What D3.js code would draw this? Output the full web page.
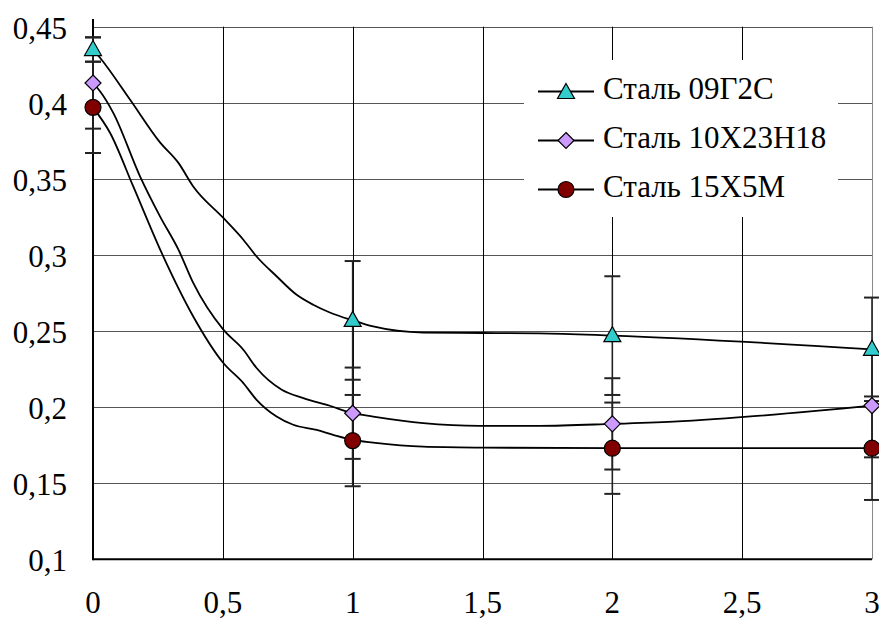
<!DOCTYPE html>
<html>
<head>
<meta charset="utf-8">
<script src="https://d3js.org/d3.v7.min.js"></script>
<style>
  body { margin: 0; background: #fff; }
  .lbl { font-family: "Liberation Serif"; font-size: 31px; }
</style>
</head>
<body>
<script>
// points with markers and error bars
var xPoints = [0, 1, 2, 3];
var yG2S = [0.435, 0.257, 0.247, 0.238];
var errG2S = [0.008, 0.039, 0.039, 0.034];
var yH18 = [0.413, 0.196, 0.189, 0.201];
var errH18 = [0.03, 0.03, 0.03, 0.034];
var yM = [0.397, 0.178, 0.173, 0.173];
var errM = [0.03, 0.03, 0.03, 0.034];

// traced curves
var curveXG2S = [0, 0.027, 0.143, 0.258, 0.329, 0.386, 0.502, 0.579, 0.63, 0.707, 0.783, 0.848, 0.912, 1, 1.079, 1.272, 1.5, 1.72, 2, 3];
var curveYG2S = [0.435, 0.4296, 0.402, 0.374, 0.3605, 0.345, 0.3243, 0.31, 0.299, 0.286, 0.274, 0.2673, 0.2622, 0.257, 0.253, 0.249, 0.2487, 0.2485, 0.247, 0.238];
var curveXH18 = [0, 0.027, 0.078, 0.181, 0.258, 0.329, 0.386, 0.502, 0.579, 0.63, 0.727, 0.81, 0.912, 1, 1.079, 1.272, 1.49, 1.72, 2, 2.235, 3];
var curveYH18 = [0.413, 0.4076, 0.3934, 0.3517, 0.3254, 0.3035, 0.2816, 0.2509, 0.2377, 0.2257, 0.2114, 0.2059, 0.2009, 0.196, 0.1938, 0.1895, 0.1877, 0.1877, 0.189, 0.1905, 0.201];
var curveXM = [0, 0.0655, 0.155, 0.2645, 0.386, 0.502, 0.579, 0.63, 0.707, 0.771, 0.861, 0.925, 1, 1.079, 1.272, 1.5, 2, 3];
var curveYM = [0.397, 0.3803, 0.345, 0.3013, 0.2596, 0.229, 0.2158, 0.2048, 0.1938, 0.1884, 0.185, 0.1818, 0.1785, 0.1767, 0.174, 0.1734, 0.173, 0.173];

var names = ["Сталь 09Г2С", "Сталь 10Х23Н18", "Сталь 15Х5М"];
var colors = ["#33CCCC", "#CC99FF", "#800000"];
var shapes = ["triangle", "diamond", "circle"];

var xTicks = [0, 0.5, 1, 1.5, 2, 2.5, 3];
var yTicks = [0.1, 0.15, 0.2, 0.25, 0.3, 0.35, 0.4, 0.45];

var series = [
  {ys: yG2S, err: errG2S, cx: curveXG2S, cy: curveYG2S},
  {ys: yH18, err: errH18, cx: curveXH18, cy: curveYH18},
  {ys: yM, err: errM, cx: curveXM, cy: curveYM}
];

var width = 879, height = 621;
var svg = d3.select("body").append("svg")
  .attr("width", width).attr("height", height);

var x = d3.scaleLinear().domain([0, 3]).range([93, 872]);
var y = d3.scaleLinear().domain([0.1, 0.45]).range([559.3, 26.7]);

var fmt = function(d) { return String(+d.toFixed(2)).replace(".", ","); };

// grid
svg.append("g").selectAll("line").data(yTicks.slice(1)).enter().append("line")
  .attr("x1", x(0)).attr("x2", x(3))
  .attr("y1", function(d) { return Math.round(y(d)) + 0.5; })
  .attr("y2", function(d) { return Math.round(y(d)) + 0.5; })
  .attr("stroke", "#555").attr("stroke-width", 1);
svg.append("g").selectAll("line").data(xTicks.slice(1)).enter().append("line")
  .attr("x1", function(d) { return Math.round(x(d)) + 0.5; })
  .attr("x2", function(d) { return Math.round(x(d)) + 0.5; })
  .attr("y1", y(0.45)).attr("y2", y(0.1))
  .attr("stroke", function(d) { return d === 3 ? "#888" : "#000"; })
  .attr("stroke-width", 1);

// axes
svg.append("line").attr("x1", x(0)).attr("x2", x(0)).attr("y1", 19).attr("y2", y(0.1) + 1)
  .attr("stroke", "#000").attr("stroke-width", 2);
svg.append("line").attr("x1", x(0)).attr("x2", x(3)).attr("y1", y(0.1)).attr("y2", y(0.1))
  .attr("stroke", "#000").attr("stroke-width", 2);

// tick labels
svg.append("g").selectAll("text").data(yTicks).enter().append("text")
  .attr("class", "lbl")
  .attr("x", 67).attr("y", function(d) { return y(d) + 12; })
  .attr("text-anchor", "end")
  .text(fmt);
svg.append("g").selectAll("text").data(xTicks).enter().append("text")
  .attr("class", "lbl")
  .attr("x", function(d) { return x(d); }).attr("y", 613)
  .attr("text-anchor", "middle")
  .text(fmt);

// curves
var line = d3.line().curve(d3.curveMonotoneX);
series.forEach(function(s) {
  var pts = s.cx.map(function(v, i) { return [x(v), y(s.cy[i])]; });
  svg.append("path").attr("d", line(pts))
    .attr("fill", "none").attr("stroke", "#000").attr("stroke-width", 1.8);
});

// error bars
series.forEach(function(s) {
  var g = svg.append("g").attr("stroke", "#222").attr("stroke-width", 1.6);
  xPoints.forEach(function(xv, i) {
    var px = x(xv), top = y(s.ys[i] + s.err[i]), bot = y(s.ys[i] - s.err[i]);
    g.append("line").attr("x1", px).attr("x2", px).attr("y1", top).attr("y2", bot);
    g.append("line").attr("x1", px - 8).attr("x2", px + 8).attr("y1", top).attr("y2", top).attr("stroke-width", 2);
    g.append("line").attr("x1", px - 8).attr("x2", px + 8).attr("y1", bot).attr("y2", bot).attr("stroke-width", 2);
  });
});

function marker(g, shape, color, px, py) {
  if (shape === "triangle") {
    g.append("path").attr("d", "M" + px + "," + (py - 9) + "L" + (px + 8.5) + "," + (py + 6) + "L" + (px - 8.5) + "," + (py + 6) + "Z")
      .attr("fill", color).attr("stroke", "#000").attr("stroke-width", 1.2);
  } else if (shape === "diamond") {
    g.append("path").attr("d", "M" + px + "," + (py - 8) + "L" + (px + 8) + "," + py + "L" + px + "," + (py + 8) + "L" + (px - 8) + "," + py + "Z")
      .attr("fill", color).attr("stroke", "#000").attr("stroke-width", 1.2);
  } else {
    g.append("circle").attr("cx", px).attr("cy", py).attr("r", 8)
      .attr("fill", color).attr("stroke", "#000").attr("stroke-width", 1.2);
  }
}

// markers
series.forEach(function(s, k) {
  var g = svg.append("g");
  xPoints.forEach(function(xv, i) { marker(g, shapes[k], colors[k], x(xv), y(s.ys[i])); });
});

// legend
var lg = svg.append("g");
lg.append("rect").attr("x", 524).attr("y", 60).attr("width", 314).attr("height", 157).attr("fill", "#fff");
names.forEach(function(n, k) {
  var cy = 91.5 + k * 49;
  lg.append("line").attr("x1", 538).attr("x2", 594).attr("y1", cy).attr("y2", cy)
    .attr("stroke", "#000").attr("stroke-width", 1.8);
  marker(lg, shapes[k], colors[k], 566, k === 0 ? cy + 1 : cy);
  lg.append("text").attr("class", "lbl").attr("x", 603).attr("y", cy + 7.5).text(n);
});
</script>
</body>
</html>
